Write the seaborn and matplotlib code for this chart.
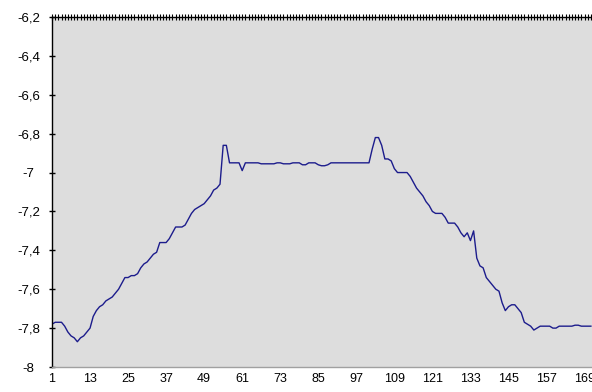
import matplotlib
matplotlib.use("Agg")
import matplotlib.pyplot as plt
import seaborn as sns
import numpy as np
import pandas as pd
from matplotlib.ticker import FuncFormatter, FixedLocator

# index 1..171
values = [
    -7.78, -7.77, -7.77, -7.77, -7.79, -7.82, -7.84, -7.85, -7.87, -7.85,   # 1-10
    -7.84, -7.82, -7.80, -7.74, -7.71, -7.69, -7.68, -7.66, -7.65, -7.64,   # 11-20
    -7.62, -7.60, -7.57, -7.54, -7.54, -7.53, -7.53, -7.52, -7.49, -7.47,   # 21-30
    -7.46, -7.44, -7.42, -7.41, -7.36, -7.36, -7.36, -7.34, -7.31, -7.28,   # 31-40
    -7.28, -7.28, -7.27, -7.24, -7.21, -7.19, -7.18, -7.17, -7.16, -7.14,   # 41-50
    -7.12, -7.09, -7.08, -7.06, -6.86, -6.86, -6.95, -6.95, -6.95, -6.95,   # 51-60
    -6.99, -6.95, -6.95, -6.95, -6.95, -6.95, -6.955, -6.955, -6.955, -6.955,  # 61-70
    -6.955, -6.95, -6.95, -6.955, -6.955, -6.955, -6.95, -6.95, -6.95, -6.96,  # 71-80
    -6.96, -6.95, -6.95, -6.95, -6.96, -6.965, -6.965, -6.96, -6.95, -6.95,  # 81-90
    -6.95, -6.95, -6.95, -6.95, -6.95, -6.95, -6.95, -6.95, -6.95, -6.95,   # 91-100
    -6.95, -6.88, -6.82, -6.82, -6.86, -6.93, -6.93, -6.94, -6.98, -7.00,   # 101-110
    -7.00, -7.00, -7.00, -7.02, -7.05, -7.08, -7.10, -7.12, -7.15, -7.17,   # 111-120
    -7.20, -7.21, -7.21, -7.21, -7.23, -7.26, -7.26, -7.26, -7.28, -7.31,   # 121-130
    -7.33, -7.31, -7.35, -7.30, -7.44, -7.48, -7.49, -7.54, -7.56, -7.58,   # 131-140
    -7.60, -7.61, -7.67, -7.71, -7.69, -7.68, -7.68, -7.70, -7.72, -7.77,   # 141-150
    -7.78, -7.79, -7.81, -7.80, -7.79, -7.79, -7.79, -7.79, -7.80, -7.80,   # 151-160
    -7.79, -7.79, -7.79, -7.79, -7.79, -7.785, -7.785, -7.79, -7.79, -7.79, # 161-170
    -7.79,                                                                  # 171
]
index = list(range(1, len(values) + 1))
x_tick_labels = [1, 13, 25, 37, 49, 61, 73, 85, 97, 109, 121, 133, 145, 157, 169]
y_ticks = [-8, -7.8, -7.6, -7.4, -7.2, -7, -6.8, -6.6, -6.4, -6.2]

df = pd.DataFrame({"idx": index, "val": values})

plt.rcParams["font.family"] = ["Liberation Sans", "DejaVu Sans"]

fig = plt.figure(figsize=(5.92, 3.92), dpi=100)
fig.patch.set_facecolor("white")
ax = fig.add_axes([52 / 592, 25 / 392, 1 - 52 / 592, 350 / 392])
ax.set_facecolor("#dddddd")

sns.lineplot(data=df, x="idx", y="val", ax=ax, color="#1c1c8c", linewidth=1.0)

px_per_idx = 3.17
right_idx = 1 + (592 - 52) / px_per_idx
ax.set_xlim(1, right_idx)
ax.set_ylim(-8, -6.2)

ax.set_xlabel("")
ax.set_ylabel("")

ax.xaxis.set_major_locator(FixedLocator(x_tick_labels))
ax.yaxis.set_major_locator(FixedLocator(y_ticks))
fmt = FuncFormatter(lambda v, p: ("%g" % v).replace(".", ","))
ax.yaxis.set_major_formatter(fmt)
ax.xaxis.set_major_formatter(FuncFormatter(lambda v, p: "%d" % v))

ax.tick_params(axis="x", length=0, pad=4, labelsize=9, colors="black")
ax.tick_params(axis="y", direction="inout", length=5, width=1, pad=14.5,
               labelsize=9.5, colors="black")
for lbl in ax.get_yticklabels():
    lbl.set_horizontalalignment("center")

for s in ["left", "top", "right", "bottom"]:
    ax.spines[s].set_visible(False)
ax.spines["left"].set_visible(True)
ax.spines["left"].set_color("black")
ax.spines["left"].set_linewidth(1)
ax.spines["bottom"].set_visible(True)
ax.spines["bottom"].set_color("#a0a0a0")
ax.spines["bottom"].set_linewidth(1)

# top axis line with a tick at every index
top = ax.secondary_xaxis("top")
top.set_xticks(index)
top.tick_params(axis="x", direction="inout", length=4, width=0.8,
                labeltop=False, colors="black")
top.spines["top"].set_color("black")
top.spines["top"].set_linewidth(1)

ax.grid(False)
fig.savefig("out.png", dpi=100)
